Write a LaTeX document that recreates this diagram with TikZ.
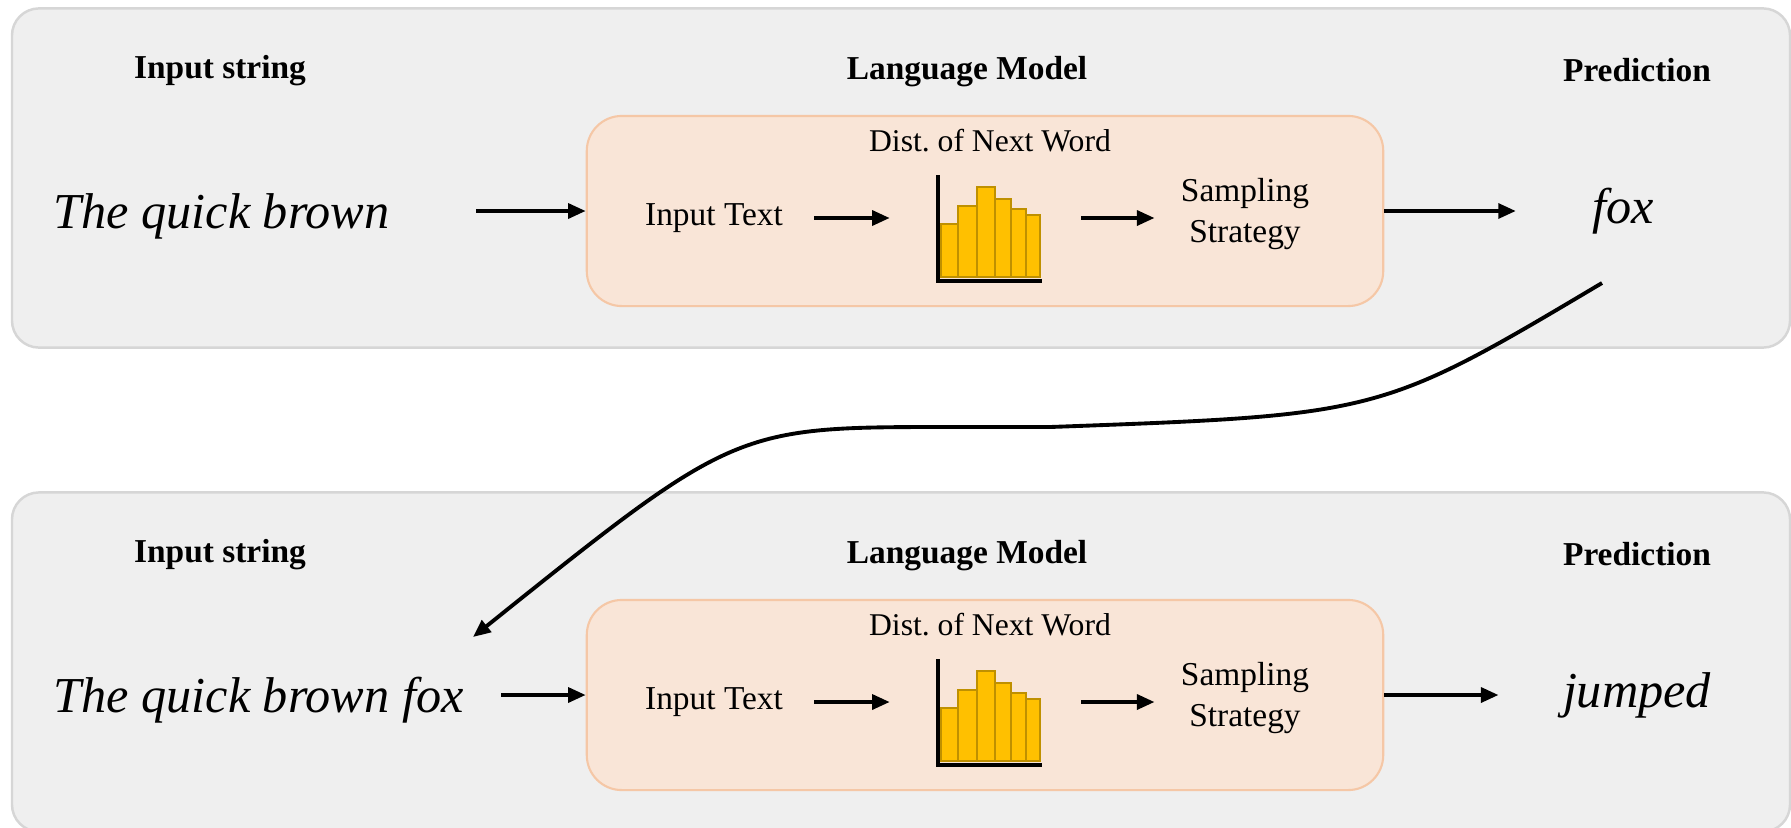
\documentclass[tikz,border=0pt]{standalone}
\usepackage{fontspec}
\setmainfont{Liberation Serif}
\usetikzlibrary{arrows.meta}
\definecolor{rowgray}{HTML}{EFEFEF}
\definecolor{rowedge}{HTML}{D6D6D6}
\definecolor{lmfill}{HTML}{F9E5D7}
\definecolor{lmedge}{HTML}{F5C7A6}
\definecolor{barfill}{HTML}{FFC000}
\definecolor{baredge}{HTML}{BF9000}

\begin{document}
\begin{tikzpicture}[x=0.01cm,y=-0.01cm,
	rowbox/.style={rectangle,rounded corners=0.27cm,minimum width=17.77cm,minimum height=3.39cm,draw=rowedge,fill=rowgray,line width=0.7pt},
	lmbox/.style={rectangle,rounded corners=0.35cm,minimum width=7.96cm,minimum height=1.9cm,draw=lmedge,fill=lmfill,line width=0.6pt},
	hdr/.style={font=\fontsize{9.5}{11}\selectfont\bfseries},
	lbl/.style={font=\fontsize{9.5}{11.7}\selectfont,align=center},
	word/.style={font=\fontsize{14.3}{17}\selectfont\itshape},
	arr/.style={line width=1.1pt,-{Triangle[length=5pt,width=4.2pt]}},
	bar/.style={draw=baredge,fill=barfill,line width=0.6pt}]
	\useasboundingbox (0,0) rectangle (1791,827);
	% one row per prediction step
	\foreach \r/\dy/\txt/\pred/\px/\si/\so in {1/0/The quick brown/fox/1623/0.74cm/0.64cm, 2/484/The quick brown fox/jumped/1637/0.25cm/0.52cm}{
		\node (row\r)[rowbox] at (901,{178+\dy}) {};
		\node (hin\r)[hdr] at (220,{71+\dy}) {Input string};
		\node (hlm\r)[hdr] at (967,{72+\dy}) {Language Model};
		\node (hpred\r)[hdr] at (1637,{70+\dy}) {Prediction};
		\node (lm\r)[lmbox] at (985,{211+\dy}) {};
		\node (in\r)[word,anchor=west] at (41,{216+\dy}) {\txt};
		\node (itx\r)[lbl] at (714,{218+\dy}) {Input Text};
		\node (dist\r)[lbl,font=\fontsize{9}{11}\selectfont] at (990,{141+\dy}) {Dist.\ of Next Word};
		\node (hist\r)[minimum width=1.03cm,minimum height=1.04cm,inner sep=0pt] at (990,{228+\dy}) {};
		\node (samp\r)[lbl] at (1245,{214+\dy}) {Sampling\\Strategy};
		\node (out\r)[word] at (\px,{211+\dy}) {\pred};
		% histogram
		\foreach \a/\b/\t in {941/958/224,958/977/206,977/995/187,995/1011/199,1011/1026/209,1026/1040/215}
			\draw[bar] (\a,{\t+\dy}) rectangle (\b,{277+\dy});
		\draw[line width=1.1pt] (hist\r.north west) |- (hist\r.south east);
		% arrows
		\draw[arr,shorten <=\si] (in\r.east |- lm\r.west) -- (lm\r.west);
		\draw[arr,shorten <=0.19cm,shorten >=0.48cm] (itx\r.east) -- (itx\r.east -| hist\r.west);
		\draw[arr,shorten <=0.39cm,shorten >=0.14cm] (hist\r.east |- itx\r.east) -- (samp\r.west |- itx\r.east);
		\draw[arr,shorten >=\so] (lm\r.east) -- (lm\r.east -| out\r.west);
	}
	% feed the prediction back
	\coordinate (back) at (1602,283);
	\coordinate (backend) at (473,637);
	\draw[arr] (back) .. controls (1380,415) .. (1050,427) -- (950,427) .. controls (735,427) .. (backend);
\end{tikzpicture}
\end{document}
